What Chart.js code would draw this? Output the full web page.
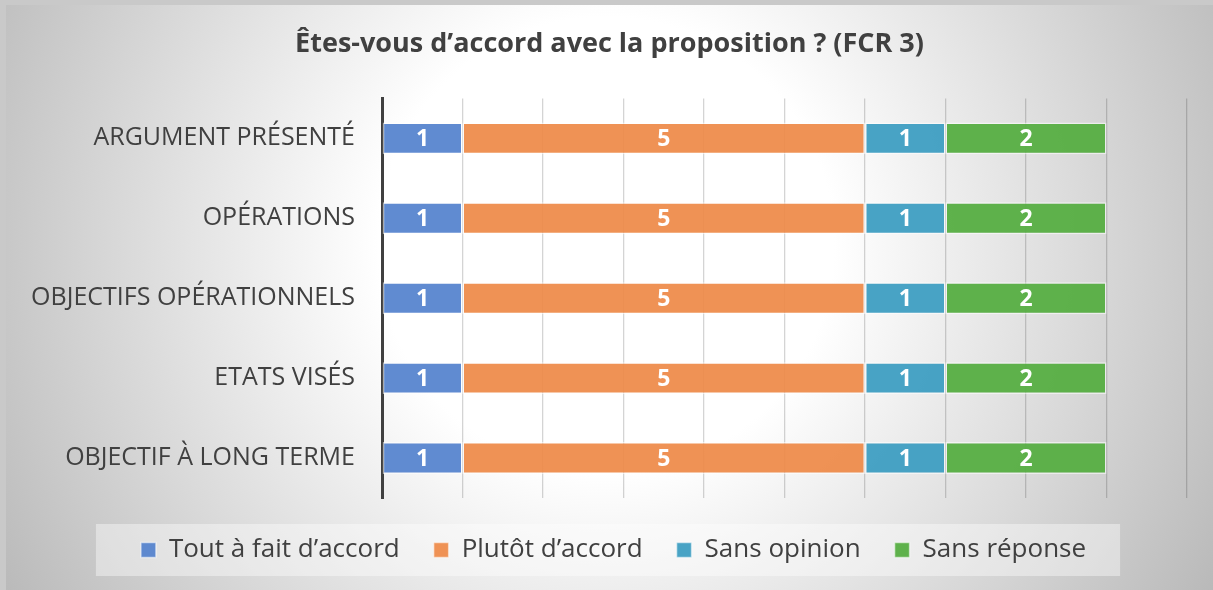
<!DOCTYPE html>
<html lang="fr">
<head>
<meta charset="utf-8">
<title>Êtes-vous d’accord avec la proposition ? (FCR 3)</title>
<script src="https://cdn.jsdelivr.net/npm/chart.js@4/dist/chart.umd.min.js"></script>
<style>
  html, body { margin: 0; padding: 0; background: #c9c9c9; overflow: hidden; }
  #wrap { position: absolute; left: 6px; top: 5px; width: 1207px; height: 585px; }
</style>
</head>
<body>
<div id="wrap"><canvas id="myChart"></canvas></div>
<script>
const categories = [
  'ARGUMENT PRÉSENTÉ',
  'OPÉRATIONS',
  'OBJECTIFS OPÉRATIONNELS',
  'ETATS VISÉS',
  'OBJECTIF À LONG TERME'
];
const toutAFait  = [1, 1, 1, 1, 1];
const plutot     = [5, 5, 5, 5, 5];
const sansOpinion = [1, 1, 1, 1, 1];
const sansReponse = [2, 2, 2, 2, 2];
const xTicks = [0, 1, 2, 3, 4, 5, 6, 7, 8, 9, 10];

const FONT = "'Open Sans', 'Noto Sans', sans-serif";
const TEXT = '#404040';

// grey-to-white radial background behind everything
const backdrop = {
  id: 'backdrop',
  afterLayout(chart) {
    // legend line carries a trailing padding, and the title ignores the right padding:
    // nudge both so they sit centred on the canvas
    chart.legend.left += 17;
    chart.legend.right += 17;
    chart.titleBlock.left += 13;
    chart.titleBlock.right += 13;
  },
  beforeDraw(chart) {
    const { ctx, width, height } = chart;
    const g = ctx.createRadialGradient(600, 240, 0, 600, 240, 760);
    g.addColorStop(0, '#ffffff');
    g.addColorStop(0.3, '#ffffff');
    g.addColorStop(1, '#b0b0b0');
    ctx.save();
    ctx.fillStyle = g;
    ctx.fillRect(0, 0, width, height);

    // pale panel behind the legend
    const boxes = chart.legend && chart.legend.legendHitBoxes;
    if (boxes && boxes.length) {
      const left = Math.min(...boxes.map(b => b.left)) - 45;
      const right = Math.max(...boxes.map(b => b.left + b.width)) + 34;
      const mid = boxes[0].top + boxes[0].height / 2;
      ctx.fillStyle = 'rgba(255,255,255,0.4)';
      ctx.fillRect(left, mid - 26, right - left, 52);
    }
    ctx.restore();
  }
};

// value written in the middle of each segment
const segmentLabels = {
  id: 'segmentLabels',
  afterDatasetsDraw(chart) {
    const ctx = chart.ctx;
    ctx.save();
    ctx.fillStyle = '#ffffff';
    ctx.font = 'bold 23px ' + FONT;
    ctx.textAlign = 'center';
    ctx.textBaseline = 'middle';
    chart.data.datasets.forEach((ds, i) => {
      chart.getDatasetMeta(i).data.forEach((bar, j) => {
        const cx = (bar.x + bar.base) / 2;
        ctx.fillText(String(ds.data[j]), cx, bar.y + 1);
      });
    });
    ctx.restore();
  }
};

function series(label, data, color) {
  return {
    label: label,
    data: data,
    backgroundColor: color,
    borderColor: 'rgba(255,255,255,0.55)',
    borderWidth: 1.5,
    borderSkipped: false,
    barPercentage: 0.8,
    categoryPercentage: 0.5
  };
}

const ctx = document.getElementById('myChart').getContext('2d');
const myChart = new Chart(ctx, {
  type: 'bar',
  data: {
    labels: categories,
    datasets: [
      series('Tout à fait d’accord', toutAFait, 'rgba(84,130,205,0.93)'),
      series('Plutôt d’accord', plutot, 'rgba(238,138,72,0.93)'),
      series('Sans opinion', sansOpinion, 'rgba(62,158,194,0.95)'),
      series('Sans réponse', sansReponse, 'rgba(86,174,66,0.95)')
    ]
  },
  options: {
    indexAxis: 'y',
    responsive: true,
    maintainAspectRatio: false,
    animation: false,
    layout: { padding: { left: 0, right: 26, top: 0, bottom: 17 } },
    scales: {
      x: {
        stacked: true,
        min: xTicks[0],
        max: xTicks[xTicks.length - 1],
        afterBuildTicks(scale) {
          scale.ticks = xTicks.map(v => ({ value: v }));
        },
        ticks: { display: false },
        grid: { color: 'rgba(0,0,0,0.17)', lineWidth: 1.3, drawTicks: false },
        border: { display: false },
        afterFit(scale) { scale.height = 5; }
      },
      y: {
        stacked: true,
        grid: { display: false },
        border: { display: true, color: '#404040', width: 3 },
        ticks: {
          color: TEXT,
          padding: 19,
          font: { family: FONT, size: 25 }
        },
        afterFit(scale) { scale.width = 376; }
      }
    },
    plugins: {
      title: {
        display: true,
        text: 'Êtes-vous d’accord avec la proposition ? (FCR 3)',
        color: TEXT,
        font: { family: FONT, size: 27, weight: 'bold' },
        padding: { top: 23, bottom: 38 }
      },
      legend: {
        position: 'bottom',
        labels: {
          color: TEXT,
          boxWidth: 15,
          boxHeight: 15,
          padding: 34,
          font: { family: FONT, size: 26 }
        }
      },
      tooltip: { enabled: false }
    }
  },
  plugins: [backdrop, segmentLabels]
});
</script>
</body>
</html>
